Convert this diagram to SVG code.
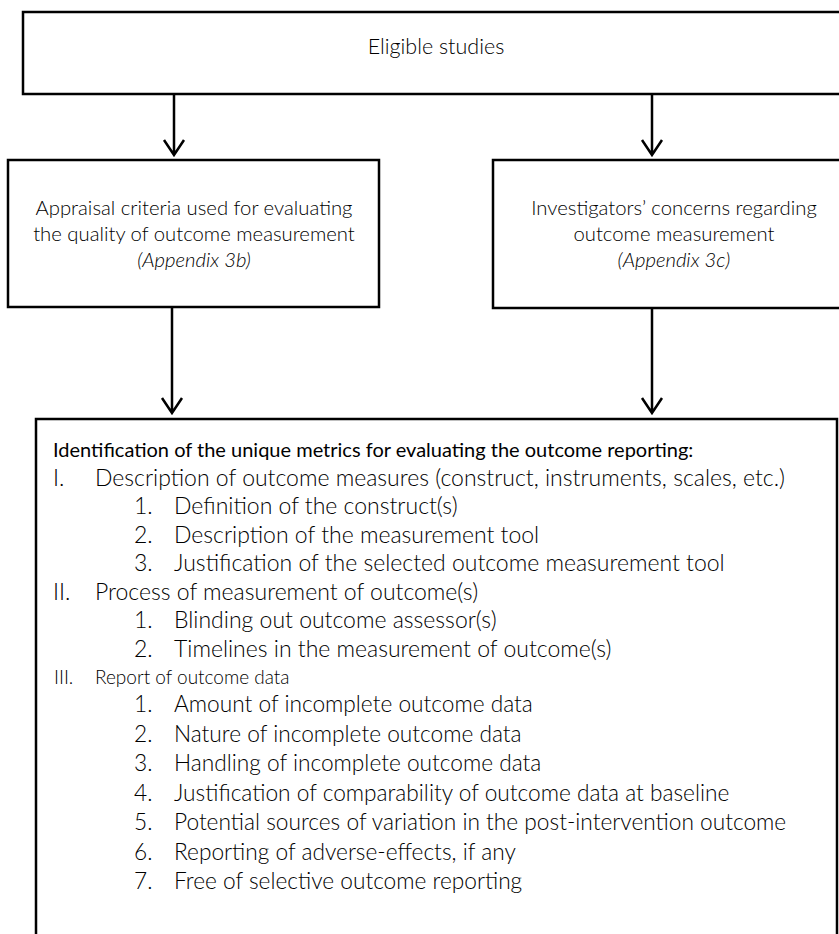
<svg xmlns="http://www.w3.org/2000/svg" width="839" height="934" viewBox="0 0 839 934">
<style>
.box{fill:#fff;stroke:#000;stroke-width:2.5}
.t{font-family:Lato,"Open Sans","Liberation Sans",sans-serif;font-weight:300;fill:#000}
.h{font-family:Lato,"Open Sans","Liberation Sans",sans-serif;font-weight:400;fill:#000}
.i{font-style:italic}
.c{text-anchor:middle}
.ln{stroke:#000;stroke-width:2.5;fill:none}
</style>
<rect width="839" height="934" fill="#fff"/>
<g id="eligible">
<rect class="box" x="23" y="12" width="900" height="82"/>
<text class="t c" x="436" y="54" font-size="21.5">Eligible studies</text>
</g>
<g id="appraisal">
<rect class="box" x="8" y="160" width="371" height="147"/>
<text class="t c" x="194" y="215" font-size="20.3">Appraisal criteria used for evaluating</text>
<text class="t c" x="194" y="241" font-size="20.3">the quality of outcome measurement</text>
<text class="t c i" x="194" y="267" font-size="20.3">(Appendix 3b)</text>
</g>
<g id="concerns">
<rect class="box" x="493" y="160" width="400" height="148"/>
<text class="t c" x="674" y="215" font-size="20.3">Investigators’ concerns regarding</text>
<text class="t c" x="674" y="241" font-size="20.3">outcome measurement</text>
<text class="t c i" x="674" y="267" font-size="20.3">(Appendix 3c)</text>
</g>
<g id="metrics">
<rect class="box" x="36" y="419" width="801" height="600"/>
<text class="h" x="53" y="457" font-size="20">Identification of the unique metrics for evaluating the outcome reporting:</text>
<g class="t" font-size="23">
<text x="53" y="486">I.</text><text x="95" y="486">Description of outcome measures (construct, instruments, scales, etc.)</text>
<text x="134" y="514">1.</text><text x="174" y="514">Definition of the construct(s)</text>
<text x="134" y="543">2.</text><text x="174" y="543">Description of the measurement tool</text>
<text x="134" y="571">3.</text><text x="174" y="571">Justification of the selected outcome measurement tool</text>
<text x="53" y="600">II.</text><text x="95" y="600">Process of measurement of outcome(s)</text>
<text x="134" y="628">1.</text><text x="174" y="628">Blinding out outcome assessor(s)</text>
<text x="134" y="657">2.</text><text x="174" y="657">Timelines in the measurement of outcome(s)</text>
</g>
<g class="t" font-size="22.7">
<text x="134" y="712">1.</text><text x="174" y="712">Amount of incomplete outcome data</text>
<text x="134" y="742">2.</text><text x="174" y="742">Nature of incomplete outcome data</text>
<text x="134" y="771">3.</text><text x="174" y="771">Handling of incomplete outcome data</text>
<text x="134" y="801">4.</text><text x="174" y="801">Justification of comparability of outcome data at baseline</text>
<text x="134" y="830">5.</text><text x="174" y="830">Potential sources of variation in the post-intervention outcome</text>
<text x="134" y="860">6.</text><text x="174" y="860">Reporting of adverse-effects, if any</text>
<text x="134" y="889">7.</text><text x="174" y="889">Free of selective outcome reporting</text>
</g>
<g class="t" font-size="19">
<text x="54" y="684">III.</text><text x="95" y="684">Report of outcome data</text>
</g>
</g>
<g id="connectors">
<path class="ln" d="M174 94V154M164 140L174 155L184 140"/>
<path class="ln" d="M652 94V154M642 140L652 155L662 140"/>
<path class="ln" d="M172 307V412M162 398L172 413L182 398"/>
<path class="ln" d="M652 308V412M642 398L652 413L662 398"/>
</g>
</svg>
